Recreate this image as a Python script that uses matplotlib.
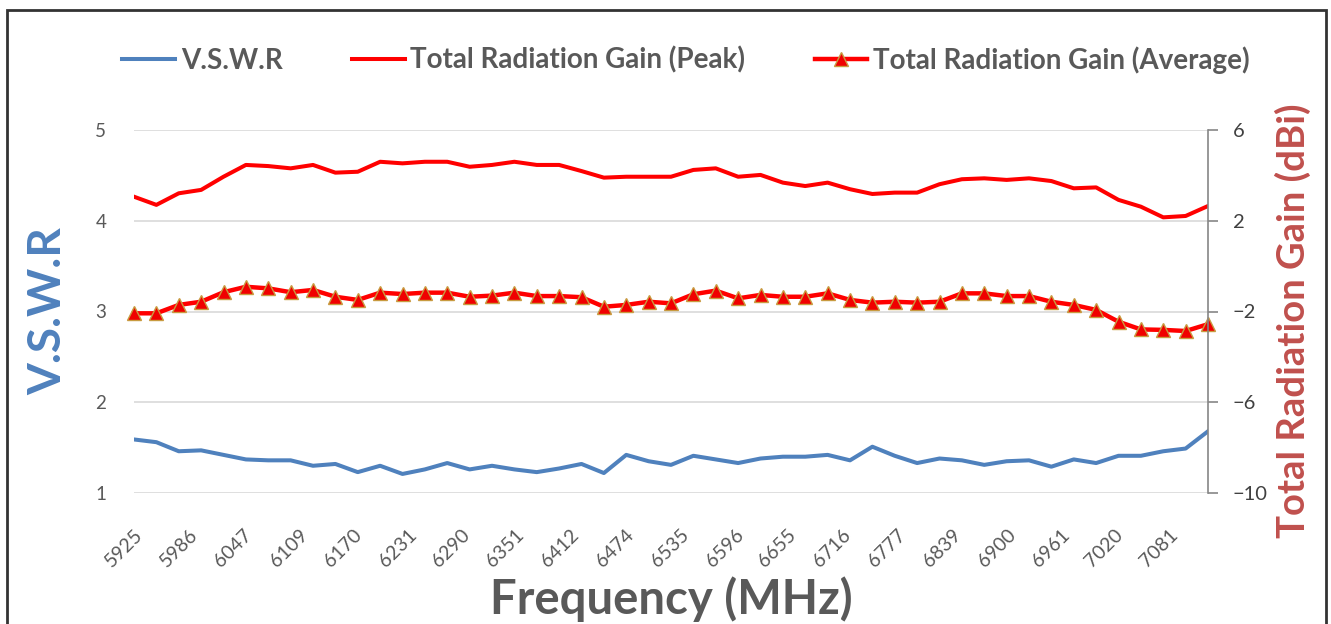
"""VSWR and total radiation gain across the 6 GHz band."""

import matplotlib
matplotlib.use("Agg")
import matplotlib.pyplot as plt
from matplotlib.patches import Rectangle

FONT = ["Lato", "DejaVu Sans"]
plt.rcParams["font.family"] = FONT

freq_mhz = [5925, 5950, 5975, 6000, 6025, 6050, 6075, 6100, 6125, 6150,
            6175, 6200, 6225, 6250, 6275, 6300, 6325, 6350, 6375, 6400,
            6425, 6450, 6475, 6500, 6525, 6550, 6575, 6600, 6625, 6650,
            6675, 6700, 6725, 6750, 6775, 6800, 6825, 6850, 6875, 6900,
            6925, 6950, 6975, 7000, 7025, 7050, 7075, 7100, 7125]

vswr = [1.59, 1.56, 1.46, 1.47, 1.42, 1.37, 1.36, 1.36, 1.30, 1.32,
        1.23, 1.30, 1.21, 1.26, 1.33, 1.26, 1.30, 1.26, 1.23, 1.27,
        1.32, 1.22, 1.42, 1.35, 1.31, 1.41, 1.37, 1.33, 1.38, 1.40,
        1.40, 1.42, 1.36, 1.51, 1.41, 1.33, 1.38, 1.36, 1.31, 1.35,
        1.36, 1.29, 1.37, 1.33, 1.41, 1.41, 1.46, 1.49, 1.68]

gain_peak = [3.06, 2.70, 3.21, 3.36, 3.94, 4.46, 4.41, 4.31, 4.46, 4.12,
             4.16, 4.60, 4.53, 4.60, 4.60, 4.38, 4.46, 4.60, 4.46, 4.46,
             4.19, 3.90, 3.94, 3.94, 3.94, 4.24, 4.31, 3.94, 4.02, 3.68,
             3.53, 3.68, 3.39, 3.18, 3.24, 3.24, 3.61, 3.83, 3.87, 3.80,
             3.87, 3.75, 3.43, 3.47, 2.92, 2.62, 2.15, 2.21, 2.65]

gain_avg = [-2.08, -2.08, -1.71, -1.57, -1.15, -0.91, -0.98, -1.15, -1.05, -1.35,
            -1.49, -1.17, -1.23, -1.17, -1.17, -1.35, -1.30, -1.17, -1.32, -1.32,
            -1.37, -1.79, -1.71, -1.57, -1.64, -1.24, -1.08, -1.42, -1.27, -1.35,
            -1.35, -1.20, -1.49, -1.61, -1.57, -1.61, -1.57, -1.20, -1.20, -1.32,
            -1.32, -1.57, -1.71, -1.93, -2.45, -2.79, -2.81, -2.86, -2.56]

freq_ticks = [5925, 5986, 6047, 6109, 6170, 6231, 6290, 6351, 6412, 6474,
              6535, 6596, 6655, 6716, 6777, 6839, 6900, 6961, 7020, 7081]
vswr_ticks = [1, 2, 3, 4, 5]
gain_ticks = [-10, -6, -2, 2, 6]

TEXT_GREY = "#595959"
BLUE = "#4F81BD"
RED = "#FF0000"
DARK_RED = "#C0504D"

fig = plt.figure(figsize=(13.31, 6.24), dpi=100)
ax = fig.add_axes([134 / 1331, 1 - 493 / 624, (1208 - 134) / 1331, (493 - 130) / 624])
ax2 = ax.twinx()

(h_vswr,) = ax.plot(freq_mhz, vswr, color=BLUE, lw=2.9, label="V.S.W.R",
                    solid_joinstyle="round", zorder=3)
(h_peak,) = ax2.plot(freq_mhz, gain_peak, color=RED, lw=2.9,
                     label="Total Radiation Gain (Peak)", solid_joinstyle="round")
(h_avg,) = ax2.plot(freq_mhz, gain_avg, color=RED, lw=3.2, marker="^", ms=10,
                    mfc="#F00000", mec="#C89B40", mew=1.0, clip_on=False,
                    label="Total Radiation Gain (Average)", solid_joinstyle="round")

ax.set_xlim(freq_mhz[0], freq_mhz[-1])
ax.set_ylim(vswr_ticks[0], vswr_ticks[-1])
ax2.set_ylim(gain_ticks[0], gain_ticks[-1])
ax.set_yticks(vswr_ticks)
ax2.set_yticks(gain_ticks)
ax.set_xticks(freq_ticks)
ax.set_xticklabels([str(f) for f in freq_ticks], rotation=45, ha="right", va="top",
                   rotation_mode="anchor")

ax.yaxis.grid(True, color="#D9D9D9", lw=1.2)
ax.set_axisbelow(True)
for side in ["top", "right", "bottom", "left"]:
    ax.spines[side].set_visible(False)
    if side != "right":
        ax2.spines[side].set_visible(False)
ax2.spines["right"].set_color("#868686")
ax2.spines["right"].set_linewidth(1.2)

ax.tick_params(axis="y", length=0, pad=20, labelsize=13.5, labelcolor=TEXT_GREY)
ax.tick_params(axis="x", length=0, pad=24, labelsize=14, labelcolor=TEXT_GREY)
ax2.tick_params(axis="y", direction="out", length=7, width=1.2, color="#868686",
                pad=11, labelsize=14.5, labelcolor="#404040")

ax.set_ylabel("V.S.W.R", fontsize=33, fontweight="bold", color=BLUE, labelpad=19)
ax2.set_ylabel("Total Radiation Gain (dBi)", fontsize=27.5, fontweight="bold",
               color=DARK_RED, labelpad=12)
ax2.yaxis.set_label_coords(1.062, 0.475)
ax.set_xlabel("Frequency (MHz)", fontsize=34, fontweight="bold", color=TEXT_GREY,
              labelpad=4)

fig.legend(handles=[h_vswr, h_peak, h_avg], loc="center",
           bbox_to_anchor=(686 / 1331, 1 - 60 / 624), ncol=3, frameon=False,
           numpoints=1, handlelength=1.9, handletextpad=0.2, columnspacing=2.5,
           prop={"family": FONT, "weight": "bold", "size": 20},
           labelcolor=TEXT_GREY)

fig.patches.append(Rectangle((7 / 1331, -0.05), (1326 - 7) / 1331, 1.05 - 10 / 624,
                             transform=fig.transFigure, fill=False,
                             ec="#333333", lw=2))

fig.savefig("out.png", dpi=100)
